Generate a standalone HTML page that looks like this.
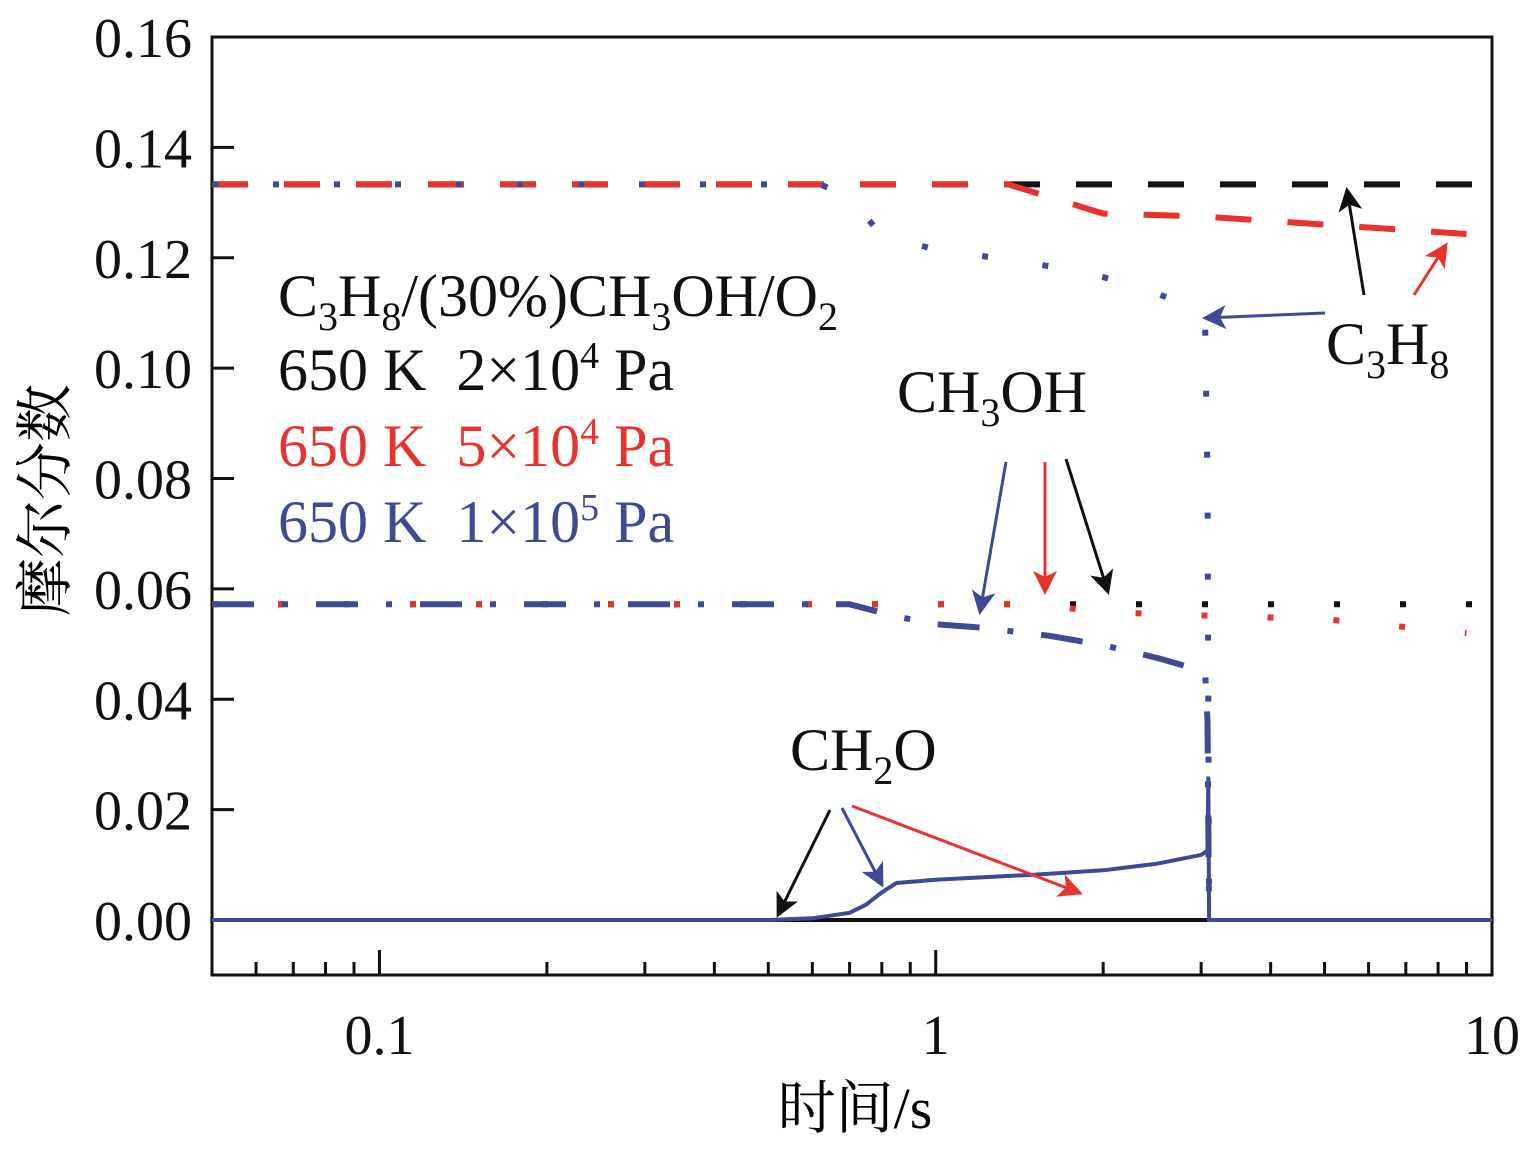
<!DOCTYPE html>
<html><head><meta charset="utf-8"><style>
body{margin:0;background:#fff}
svg text{font-family:"Liberation Serif","Noto Serif CJK SC",serif}
</style></head><body>
<svg id="chart" width="1536" height="1151" viewBox="0 0 1536 1151">
<rect x="212" y="37" width="1280" height="938" fill="none" stroke="#111" stroke-width="3"/>
<g id="ticks"></g>
<g id="series"></g>
<text x="38" y="527" font-size="58" text-anchor="middle" transform="rotate(-90 38 500)">摩尔分数</text>
<text x="855" y="1128" font-size="58" text-anchor="middle">时间/s</text>
<g font-size="60">
<text x="278" y="316" fill="#111">C<tspan font-size="40" dy="14">3</tspan><tspan dy="-14">H</tspan><tspan font-size="40" dy="14">8</tspan><tspan dy="-14">/(30%)CH</tspan><tspan font-size="40" dy="14">3</tspan><tspan dy="-14">OH/O</tspan><tspan font-size="40" dy="14">2</tspan></text>
<text x="278" y="390" fill="#111" xml:space="preserve">650 K  2×10<tspan font-size="38" dy="-22">4</tspan><tspan dy="22"> Pa</tspan></text>
<text x="278" y="466" fill="#e8322e" xml:space="preserve">650 K  5×10<tspan font-size="38" dy="-22">4</tspan><tspan dy="22"> Pa</tspan></text>
<text x="278" y="542" fill="#3f4a94" xml:space="preserve">650 K  1×10<tspan font-size="38" dy="-22">5</tspan><tspan dy="22"> Pa</tspan></text>
</g>
<g font-size="60" fill="#111">
<text x="1326" y="364">C<tspan font-size="40" dy="14">3</tspan><tspan dy="-14">H</tspan><tspan font-size="40" dy="14">8</tspan></text>
<text x="897" y="412">CH<tspan font-size="40" dy="14">3</tspan><tspan dy="-14">OH</tspan></text>
<text x="790" y="770">CH<tspan font-size="40" dy="14">2</tspan><tspan dy="-14">O</tspan></text>
</g>
<defs>
<marker id="ak" markerWidth="8" markerHeight="8" refX="7" refY="4" orient="auto" markerUnits="strokeWidth"><path d="M0,0 L8,4 L0,8 L2,4z" fill="#111"/></marker>
<marker id="ar" markerWidth="8" markerHeight="8" refX="7" refY="4" orient="auto" markerUnits="strokeWidth"><path d="M0,0 L8,4 L0,8 L2,4z" fill="#e8322e"/></marker>
<marker id="ab" markerWidth="8" markerHeight="8" refX="7" refY="4" orient="auto" markerUnits="strokeWidth"><path d="M0,0 L8,4 L0,8 L2,4z" fill="#3f4a94"/></marker>
</defs>
<g stroke-width="3" fill="none">
<line x1="1364" y1="295" x2="1347" y2="190" stroke="#111" marker-end="url(#ak)"/>
<line x1="1414" y1="295" x2="1446" y2="245" stroke="#e8322e" marker-end="url(#ar)"/>
<line x1="1325" y1="313" x2="1205" y2="318" stroke="#3f4a94" marker-end="url(#ab)"/>
<line x1="1006" y1="462" x2="980" y2="612" stroke="#3f4a94" marker-end="url(#ab)"/>
<line x1="1045" y1="462" x2="1045" y2="592" stroke="#e8322e" marker-end="url(#ar)"/>
<line x1="1066" y1="459" x2="1108" y2="592" stroke="#111" marker-end="url(#ak)"/>
<line x1="830" y1="810" x2="778" y2="915" stroke="#111" marker-end="url(#ak)"/>
<line x1="842" y1="808" x2="882" y2="885" stroke="#3f4a94" marker-end="url(#ab)"/>
<line x1="852" y1="806" x2="1080" y2="893" stroke="#e8322e" marker-end="url(#ar)"/>
</g>
</svg>
<script>
const yTicks=[0,0.02,0.04,0.06,0.08,0.10,0.12,0.14,0.16];
const yTickLabels=["0.00","0.02","0.04","0.06","0.08","0.10","0.12","0.14","0.16"];
const xMajor=[0.1,1,10];
const xMajorLabels=["0.1","1","10"];
// C3H8 series
const t_c3h8_k=[0.05,10];
const c3h8_k=[0.1333,0.1333];
const t_c3h8_r=[0.05,1.35,1.6,2.0,3.0,5.0,9.0];
const c3h8_r=[0.1333,0.1333,0.131,0.128,0.1275,0.126,0.1243];
const t_c3h8_b=[0.05,0.62,0.7,0.8,1.0,1.5,2.0,2.5,2.9,3.05,3.08,3.1];
const c3h8_b=[0.1333,0.1333,0.131,0.124,0.1215,0.119,0.1165,0.1135,0.111,0.108,0.08,0.0];
// CH3OH series
const t_ch3oh_k=[0.05,10];
const ch3oh_k=[0.0572,0.0572];
const t_ch3oh_r=[0.05,1.5,2.0,3.0,5.0,9.0];
const ch3oh_r=[0.0572,0.0572,0.0558,0.0552,0.0545,0.052];
const t_ch3oh_b=[0.05,0.7,0.85,1.0,1.2,1.6,2.0,2.5,3.05,3.08,3.1];
const ch3oh_b=[0.0572,0.0572,0.055,0.0536,0.053,0.0515,0.0498,0.0475,0.045,0.036,0.0];
// CH2O series
const t_ch2o_k=[0.05,10];
const ch2o_k=[0,0];
const t_ch2o_b=[0.05,0.5,0.6,0.7,0.75,0.8,0.85,1.0,1.5,2.0,2.5,3.0,3.08,3.09,3.1,3.11,10];
const ch2o_b=[0,0,0.0003,0.0013,0.0028,0.005,0.0067,0.0073,0.0082,0.009,0.0102,0.0118,0.0125,0.026,0.0,0.0,0.0];

const X0=212,X1=1492,xmin=Math.log10(0.05),xmax=1;
const xs=v=>X0+(Math.log10(v)-xmin)/(xmax-xmin)*(X1-X0);
const Y0=920,Yt=37;
const ys=v=>Y0-(v/0.16)*(Y0-Yt);
const NS="http://www.w3.org/2000/svg";
const tg=document.getElementById('ticks'),sg=document.getElementById('series');
function el(tag,a,p){const e=document.createElementNS(NS,tag);for(const k in a)e.setAttribute(k,a[k]);p.appendChild(e);return e;}
yTicks.forEach((v,i)=>{
 const l=el('line',{x1:212,x2:234,y1:ys(v),y2:ys(v),stroke:'#111','stroke-width':3},tg);
 
 
 const t=el('text',{x:192,y:ys(v)+20,'font-size':56,'text-anchor':'end',fill:'#111'},tg);
 t.textContent=yTickLabels[i];
 
 
});
xMajor.forEach((v,i)=>{
 const l=el('line',{x1:xs(v),x2:xs(v),y1:975,y2:950,stroke:'#111','stroke-width':3},tg);
 
 
 const t=el('text',{x:xs(v),y:1054,'font-size':56,'text-anchor':'middle',fill:'#111'},tg);
 t.textContent=xMajorLabels[i];
 
 
});
[0.01,0.1,1].forEach(d=>{for(let m=2;m<=9;m++){const v=d*m;if(v<0.05||v>10)continue;
 const l=el('line',{x1:xs(v),x2:xs(v),y1:975,y2:962,stroke:'#111','stroke-width':3},tg);
 
 }});
function series(t,v,color,dash,name,w){
 const d=t.map((x,i)=>(i?'L':'M')+xs(x).toFixed(1)+','+ys(v[i]).toFixed(1)).join(' ');
 const p=el('path',{d:d,fill:'none',stroke:color,'stroke-width':w||4},sg);
 if(dash)p.setAttribute('stroke-dasharray',dash);
 
 
}
const K='#111',R='#e8322e',B='#3f4a94';
series(t_ch2o_k,ch2o_k,K,null,'ch2o-2e4-line');
series(t_c3h8_k,c3h8_k,K,'36 36','c3h8-2e4-line',6);
series(t_ch3oh_k,ch3oh_k,K,'6 60','ch3oh-2e4-line',6);
series(t_c3h8_r,c3h8_r,R,'36 36','c3h8-5e4-line',6);
series(t_ch3oh_r,ch3oh_r,R,'6 60','ch3oh-5e4-line',6);
series(t_c3h8_b,c3h8_b,B,'6 55','c3h8-1e5-line',6);
series(t_ch3oh_b,ch3oh_b,B,'42 28 6 28','ch3oh-1e5-line',6);
series(t_ch2o_b,ch2o_b,B,null,'ch2o-1e5-line',4);
</script>
</body></html>
